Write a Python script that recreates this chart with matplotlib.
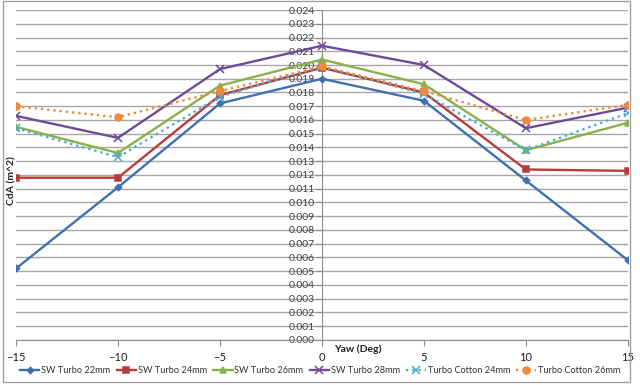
import matplotlib
matplotlib.use("Agg")
import matplotlib.pyplot as plt
from matplotlib.patches import Rectangle

plt.rcParams["font.family"] = ["Lato", "DejaVu Sans"]

yaw = [-15, -10, -5, 0, 5, 10, 15]

sw_22 = [0.0052, 0.0111, 0.0172, 0.0190, 0.0174, 0.0116, 0.0058]
sw_24 = [0.0118, 0.0118, 0.0178, 0.0198, 0.0180, 0.0124, 0.0123]
sw_26 = [0.0155, 0.0136, 0.0185, 0.0204, 0.0186, 0.0138, 0.0158]
sw_28 = [0.0163, 0.0147, 0.0197, 0.0214, 0.0200, 0.0154, 0.0169]
tc_24 = [0.0154, 0.0133, 0.0177, 0.0199, 0.0179, 0.0138, 0.0165]
tc_26 = [0.0170, 0.0162, 0.0181, 0.0199, 0.0181, 0.0160, 0.0171]

y_ticks = [i / 1000 for i in range(0, 25)]
x_ticks = [-15, -10, -5, 0, 5, 10, 15]

series = [
    ("SW Turbo 22mm", sw_22, "#4170b0", "D", "-", 3.2),
    ("SW Turbo 24mm", sw_24, "#b83c3a", "s", "-", 4.5),
    ("SW Turbo 26mm", sw_26, "#8bb04a", "^", "-", 5),
    ("SW Turbo 28mm", sw_28, "#6e4a98", "x", "-", 5.5),
    ("Turbo Cotton 24mm", tc_24, "#4aaed0", "x", ":", 5.5),
    ("Turbo Cotton 26mm", tc_26, "#ee8a3a", "o", ":", 5),
]

fig = plt.figure(figsize=(6.4, 3.85), dpi=100)
ax = fig.add_axes([0.025, 0.117, 0.956, 0.857])

for label, vals, color, marker, ls, ms in series:
    ax.plot(yaw, vals, color=color, linestyle=ls, linewidth=1.7,
            marker=marker, markersize=ms, markeredgewidth=1.1, label=label, zorder=3)

ax.set_xlim(-15, 15)
ax.set_ylim(0, 0.024)
ax.set_yticks(y_ticks)
ax.set_yticklabels([f"{v:.3f}" for v in y_ticks])
ax.set_xticks(x_ticks)
ax.grid(axis="y", color="#a6a6a6", linewidth=1)
ax.set_axisbelow(True)

# y axis sits at yaw = 0
ax.spines["left"].set_position(("data", 0))
ax.spines["right"].set_visible(False)
ax.spines["top"].set_visible(False)
ax.spines["left"].set_color("#8c8c8c")
ax.spines["bottom"].set_color("#8c8c8c")
ax.tick_params(axis="y", direction="out", length=4, color="#8c8c8c", labelsize=7.5,
               labelcolor="#404040", pad=1)
ax.tick_params(axis="x", direction="out", length=4, color="#8c8c8c", labelsize=8,
               labelcolor="#202020", pad=5)

ax.text(0.6, -0.0003, "Yaw (Deg)", fontsize=7.5, fontweight="bold", ha="left", va="top",
        color="#202020")
fig.text(0.018, 0.53, "CdA (m^2)", rotation=90, fontsize=7.5, fontweight="bold",
         ha="center", va="center", color="#202020")

fig.legend(loc="lower center", bbox_to_anchor=(0.5, 0.025), ncol=6, frameon=False,
           fontsize=6.6, handlelength=2.1, handletextpad=0.2, columnspacing=0.7,
           labelcolor="#303030", borderaxespad=0, borderpad=0)

fig.patches.append(Rectangle((0.004, 0.008), 0.98, 0.99, transform=fig.transFigure,
                             fill=False, edgecolor="#a0a0a0", linewidth=1))

fig.savefig("out.png", dpi=100)
